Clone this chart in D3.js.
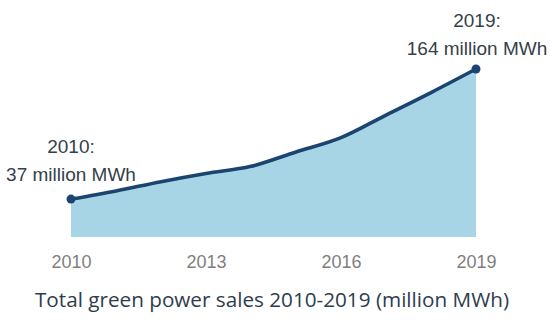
<!DOCTYPE html>
<html>
<head>
<meta charset="utf-8">
<script src="https://cdn.jsdelivr.net/npm/d3@7"></script>
<style>
html,body{margin:0;padding:0;background:#fff;}
svg{display:block;}
</style>
</head>
<body>
<svg id="chart" width="552" height="328"></svg>
<script>
const years = [2010, 2011, 2012, 2013, 2014, 2015, 2016, 2017, 2018, 2019];
const sales = [37, 45, 54, 62, 69, 83, 97, 119, 141, 164];
const tickYears = [2010, 2013, 2016, 2019];
const firstLabel = ["2010:", "37 million MWh"];
const lastLabel = ["2019:", "164 million MWh"];
const title = "Total green power sales 2010-2019 (million MWh)";

const data = years.map((y, i) => ({year: y, value: sales[i]}));
const svg = d3.select("#chart");

const x = d3.scaleLinear().domain([2010, 2019]).range([71, 476]);
const y = d3.scaleLinear().domain([0, 164]).range([237, 69]);

svg.append("path")
  .datum(data)
  .attr("fill", "#a8d5e5")
  .attr("d", d3.area().x(d => x(d.year)).y0(y(0)).y1(d => y(d.value)).curve(d3.curveMonotoneX));

svg.append("path")
  .datum(data)
  .attr("fill", "none")
  .attr("stroke", "#1c4470")
  .attr("stroke-width", 3.6)
  .attr("stroke-linejoin", "round")
  .attr("d", d3.line().x(d => x(d.year)).y(d => y(d.value)).curve(d3.curveMonotoneX));

svg.selectAll("circle.end")
  .data([data[0], data[data.length - 1]])
  .enter().append("circle")
  .attr("class", "end")
  .attr("cx", d => x(d.year))
  .attr("cy", d => y(d.value))
  .attr("r", 4.5)
  .attr("fill", "#1c4470");

const axis = d3.axisBottom(x).tickValues(tickYears).tickFormat(d3.format("d")).tickSize(0).tickPadding(0);
const gAxis = svg.append("g").attr("transform", "translate(0,255)").call(axis);
gAxis.select(".domain").remove();
gAxis.selectAll("text")
  .attr("dy", "0.71em")
  .style("font-family", "'Liberation Sans', Arial, sans-serif")
  .style("font-size", "18px")
  .attr("fill", "#7f7f7f");

function annot(lines, cx, baseTop) {
  svg.append("g").selectAll("text").data(lines).enter().append("text")
    .attr("x", cx)
    .attr("y", (d, i) => baseTop + i * 28)
    .attr("text-anchor", "middle")
    .style("font-family", "'Liberation Sans', Arial, sans-serif")
    .style("font-size", "19px")
    .attr("fill", "#353f4a")
    .text(d => d);
}
annot(firstLabel, x(2010), 153);
annot(lastLabel, x(2019) + 1, 27);

svg.append("text")
  .attr("x", 272)
  .attr("y", 307)
  .attr("text-anchor", "middle")
  .style("font-family", "'Open Sans', sans-serif")
  .style("font-size", "20.7px")
  .attr("fill", "#2e3d4d")
  .text(title);
</script>
</body>
</html>
